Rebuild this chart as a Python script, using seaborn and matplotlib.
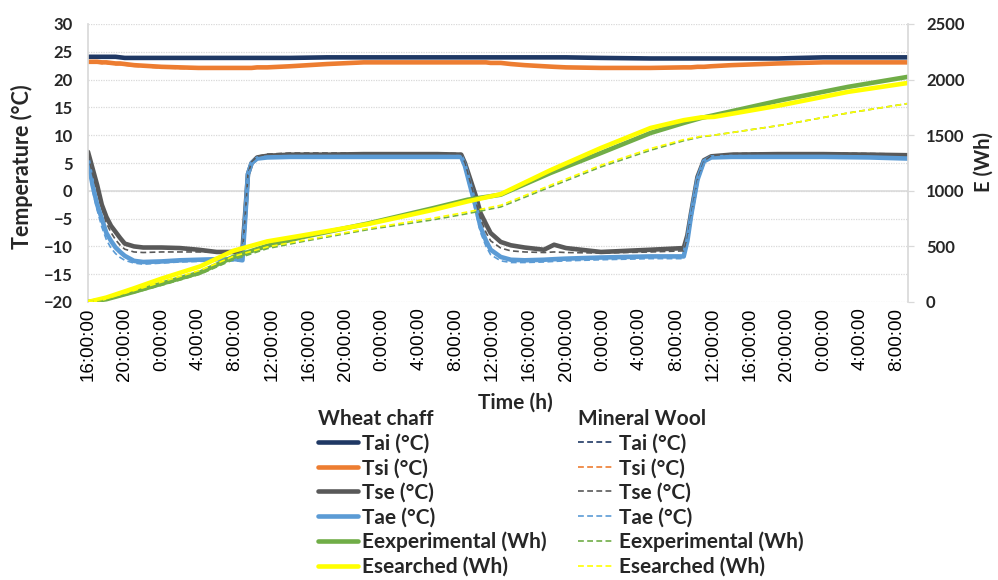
import matplotlib
matplotlib.use("Agg")
import matplotlib.pyplot as plt
from matplotlib.lines import Line2D
import seaborn as sns

# ---- time axis (hours since start, 16:00) ----
tick_labels = ["16:00:00", "20:00:00", "0:00:00", "4:00:00", "8:00:00", "12:00:00",
               "16:00:00", "20:00:00", "0:00:00", "4:00:00", "8:00:00", "12:00:00",
               "16:00:00", "20:00:00", "0:00:00", "4:00:00", "8:00:00", "12:00:00",
               "16:00:00", "20:00:00", "0:00:00", "4:00:00", "8:00:00"]

# ---- temperatures (°C) ----
t_temp = [0, 0.5, 1, 1.5, 2, 2.5, 3, 3.5, 4, 5, 6, 8, 10, 12, 14, 16, 16.8, 17.1, 17.4,
          17.8, 18.4, 19.5, 22, 26, 30, 34, 38, 40.6, 41.0, 41.6, 42.2, 42.7, 43.3, 43.8,
          44.9, 46, 47.5, 49.6, 50.7, 52, 55.8, 61.2, 64.8, 65.2, 65.6, 66.3, 67.0, 67.8,
          70, 75, 80, 85, 89.2]

tai_wheat = [24.1, 24.1, 24.1, 24.1, 24.1, 24.1, 24.1, 24.0, 23.9, 23.9, 23.9, 23.9, 23.9,
             23.9, 23.9, 23.9, 23.9, 23.9, 23.9, 23.9, 23.9, 23.9, 23.9, 24.0, 24.0, 24.0,
             24.0, 24.0, 24.0, 24.0, 24.0, 24.0, 24.0, 24.0, 24.0, 24.0, 24.0, 24.0, 24.0,
             24.0, 23.9, 23.8, 23.8, 23.8, 23.8, 23.8, 23.8, 23.8, 23.8, 23.8, 24.0, 24.0, 24.0]
tsi_wheat = [23.2, 23.2, 23.2, 23.1, 23.1, 23.0, 22.9, 22.9, 22.8, 22.6, 22.5, 22.3, 22.2,
             22.1, 22.1, 22.1, 22.1, 22.1, 22.1, 22.1, 22.2, 22.2, 22.4, 22.8, 23.1, 23.1,
             23.1, 23.1, 23.1, 23.1, 23.1, 23.1, 23.1, 23.0, 23.0, 22.8, 22.6, 22.4, 22.3,
             22.2, 22.1, 22.1, 22.2, 22.2, 22.2, 22.3, 22.3, 22.4, 22.6, 22.9, 23.1, 23.1, 23.1]
tse_wheat = [7.0, 4.0, 1.0, -2.5, -4.7, -6.3, -7.4, -8.5, -9.5, -10.0, -10.2, -10.2, -10.3,
             -10.6, -11.0, -11.0, -10.6, -4.0, 3.0, 5.0, 6.0, 6.3, 6.5, 6.5, 6.6, 6.6, 6.6,
             6.5, 5.0, 2.0, -1.0, -4.0, -6.0, -7.6, -9.2, -9.8, -10.2, -10.6, -9.7, -10.3,
             -11.0, -10.6, -10.3, -8.0, -4.0, 2.5, 5.5, 6.2, 6.5, 6.6, 6.6, 6.5, 6.4]
tae_wheat = [5.5, 1.0, -2.5, -5.0, -7.6, -9.0, -10.2, -11.0, -11.7, -12.6, -12.8, -12.7,
             -12.5, -12.4, -12.3, -12.3, -12.5, -5.0, 3.0, 5.0, 5.8, 6.0, 6.1, 6.1, 6.1, 6.1,
             6.1, 6.1, 4.5, 0.7, -3.0, -6.5, -9.0, -10.6, -11.9, -12.4, -12.5, -12.4, -12.3,
             -12.2, -12.0, -11.8, -11.8, -9.0, -4.5, 2.0, 5.3, 6.0, 6.1, 6.1, 6.1, 6.0, 5.8]

tai_wool = [23.8] * 53
tsi_wool = [23.0, 23.0, 23.0, 22.9, 22.9, 22.8, 22.7, 22.7, 22.6, 22.4, 22.3, 22.1, 22.0,
            22.0, 22.0, 22.0, 22.0, 22.0, 22.0, 22.0, 22.1, 22.1, 22.3, 22.7, 23.0, 23.0,
            23.0, 23.0, 23.0, 23.0, 23.0, 23.0, 23.0, 22.9, 22.9, 22.7, 22.5, 22.3, 22.2,
            22.1, 22.0, 22.0, 22.1, 22.1, 22.1, 22.2, 22.2, 22.3, 22.5, 22.8, 23.0, 23.0, 23.0]
tse_wool = [6.5, 3.0, 0.0, -3.0, -5.8, -7.5, -8.8, -9.8, -10.5, -11.0, -11.1, -11.0, -11.0,
            -11.0, -11.0, -11.0, -11.0, -4.5, 3.0, 5.2, 6.2, 6.6, 6.8, 6.8, 6.8, 6.8, 6.8,
            6.7, 5.0, 1.5, -2.0, -5.0, -7.5, -9.0, -10.3, -10.8, -11.0, -11.1, -11.0, -11.1,
            -11.2, -11.0, -10.8, -8.5, -4.5, 2.0, 5.3, 6.3, 6.7, 6.8, 6.8, 6.7, 6.6]
tae_wool = [5.0, 0.0, -3.5, -6.5, -8.8, -10.3, -11.3, -12.0, -12.5, -13.0, -13.2, -13.0,
            -12.8, -12.7, -12.6, -12.6, -12.6, -5.5, 2.5, 4.8, 5.8, 6.1, 6.2, 6.2, 6.2, 6.2,
            6.2, 6.2, 4.0, 0.0, -4.0, -7.5, -10.0, -11.5, -12.6, -12.9, -12.9, -12.8, -12.7,
            -12.6, -12.4, -12.2, -12.2, -9.5, -5.0, 1.5, 5.0, 5.9, 6.1, 6.1, 6.1, 6.0, 5.9]

# ---- energy (Wh) ----
t_energy = [0, 2, 4.9, 8, 12.2, 15.8, 19.5, 23.1, 30.4, 37.6, 41.3, 44.9, 50.3, 55.8, 61.2,
            64.8, 66.7, 68.1, 75.4, 82.7, 89.2]
eexp_wheat = [0, 25, 90, 165, 265, 405, 505, 580, 705, 845, 920, 965, 1160, 1340, 1520,
              1610, 1655, 1680, 1815, 1935, 2025]
eser_wheat = [0, 40, 120, 210, 320, 460, 545, 595, 700, 830, 905, 970, 1185, 1385, 1565,
              1635, 1660, 1665, 1770, 1890, 1970]
eexp_wool = [0, 20, 80, 150, 250, 380, 480, 540, 650, 740, 795, 855, 1035, 1215, 1365,
             1450, 1485, 1500, 1590, 1700, 1785]
eser_wool = [0, 30, 100, 180, 285, 410, 495, 550, 660, 755, 810, 870, 1050, 1230, 1380,
             1460, 1490, 1500, 1590, 1700, 1785]

series_labels = ["Tai (°C)", "Tsi (°C)", "Tse (°C)", "Tae (°C)",
                 "Eexperimental (Wh)", "Esearched (Wh)"]
colors = ["#1F3864", "#ED7D31", "#595959", "#5B9BD5", "#70AD47", "#FFFF00"]

sns.set_theme(style="white")
plt.rcParams["font.family"] = ["Lato", "DejaVu Sans"]

fig = plt.figure(figsize=(9.98, 5.80), dpi=100)
ax = fig.add_axes([88 / 998, 1 - 302 / 580, (908 - 88) / 998, (302 - 24) / 580])
ax2 = ax.twinx()

solid_lw = 3.3
dash_lw = 1.2
dash = (0, (3.5, 2))

temp_wheat = [tai_wheat, tsi_wheat, tse_wheat, tae_wheat]
temp_wool = [tai_wool, tsi_wool, tse_wool, tae_wool]
for vals, c in zip(temp_wheat, colors[:4]):
    sns.lineplot(x=t_temp, y=vals, ax=ax, color=c, linewidth=solid_lw,
                 estimator=None, sort=False, legend=False)
for vals, c in zip(temp_wool, colors[:4]):
    sns.lineplot(x=t_temp, y=vals, ax=ax, color=c, linewidth=dash_lw,
                 linestyle=dash, estimator=None, sort=False, legend=False)

for vals, c in zip([eexp_wheat, eser_wheat], colors[4:]):
    sns.lineplot(x=t_energy, y=vals, ax=ax2, color=c, linewidth=solid_lw,
                 estimator=None, sort=False, legend=False)
for vals, c in zip([eexp_wool, eser_wool], colors[4:]):
    sns.lineplot(x=t_energy, y=vals, ax=ax2, color=c, linewidth=dash_lw,
                 linestyle=dash, estimator=None, sort=False, legend=False)

# axes ranges and ticks
ax.set_xlim(0, 89.2)
ax.set_ylim(-20, 30)
ax2.set_ylim(0, 2500)
ax.set_yticks(range(-20, 31, 5))
ax2.set_yticks(range(0, 2501, 500))
ax.set_xticks([4 * i for i in range(len(tick_labels))])
ax.set_xticklabels(tick_labels, rotation=90, fontsize=13.5,
                   family=["Liberation Sans", "DejaVu Sans"], color="#000000")

grid_c = "#D9D9D9"
ax.yaxis.grid(True, linestyle=(0, (1, 1)), color=grid_c, linewidth=0.9)
ax.xaxis.grid(False)
ax2.grid(False)
ax.axhline(0, color=grid_c, linewidth=1.1, zorder=0.5)
ax.set_axisbelow(True)

for a in (ax, ax2):
    for side in ("top", "bottom"):
        a.spines[side].set_visible(False)
    a.spines["left"].set_color(grid_c)
    a.spines["right"].set_color(grid_c)
ax2.spines["left"].set_visible(False)
ax.spines["right"].set_visible(False)

ax.tick_params(axis="y", length=0, pad=11, labelsize=12)
ax.tick_params(axis="x", length=0, pad=4)
ax2.tick_params(axis="y", length=4, width=0.9, color=grid_c, pad=9, labelsize=12)
for lbl in ax.get_yticklabels() + ax2.get_yticklabels():
    lbl.set_fontweight("bold")

ax.set_ylabel("Temperature (°C)", fontsize=15.5, fontweight="bold", va="center")
ax.yaxis.set_label_coords(-0.081, 0.486)
ax2.set_ylabel("E (Wh)", fontsize=14.5, fontweight="bold", va="center")
ax2.yaxis.set_label_coords(1.092, 0.504)
ax.set_xlabel("Time (h)", fontsize=15, fontweight="bold", va="center")
ax.xaxis.set_label_coords(0.5207, -0.363)

# two legend blocks: solid lines = wheat chaff, dashed lines = mineral wool
legend_font = {"size": 15, "weight": "bold"}
wheat_handles = [Line2D([], [], color=c, lw=solid_lw) for c in colors]
wool_handles = [Line2D([], [], color=c, lw=dash_lw, linestyle=dash) for c in colors]

fig.legend(wheat_handles, series_labels, title="Wheat chaff", loc="upper left",
           bbox_to_anchor=(318 / 998, 1 - 409 / 580), frameon=False,
           prop=legend_font, title_fontproperties=legend_font, alignment="left",
           handlelength=1.92, handletextpad=0.2, labelspacing=0.22,
           borderpad=0, borderaxespad=0)
fig.legend(wool_handles, series_labels, title="Mineral Wool", loc="upper left",
           bbox_to_anchor=(578 / 998, 1 - 409 / 580), frameon=False,
           prop=legend_font, title_fontproperties=legend_font, alignment="left",
           handlelength=1.63, handletextpad=0.35, labelspacing=0.22,
           borderpad=0, borderaxespad=0)

fig.savefig("out.png", dpi=100, facecolor="white")
